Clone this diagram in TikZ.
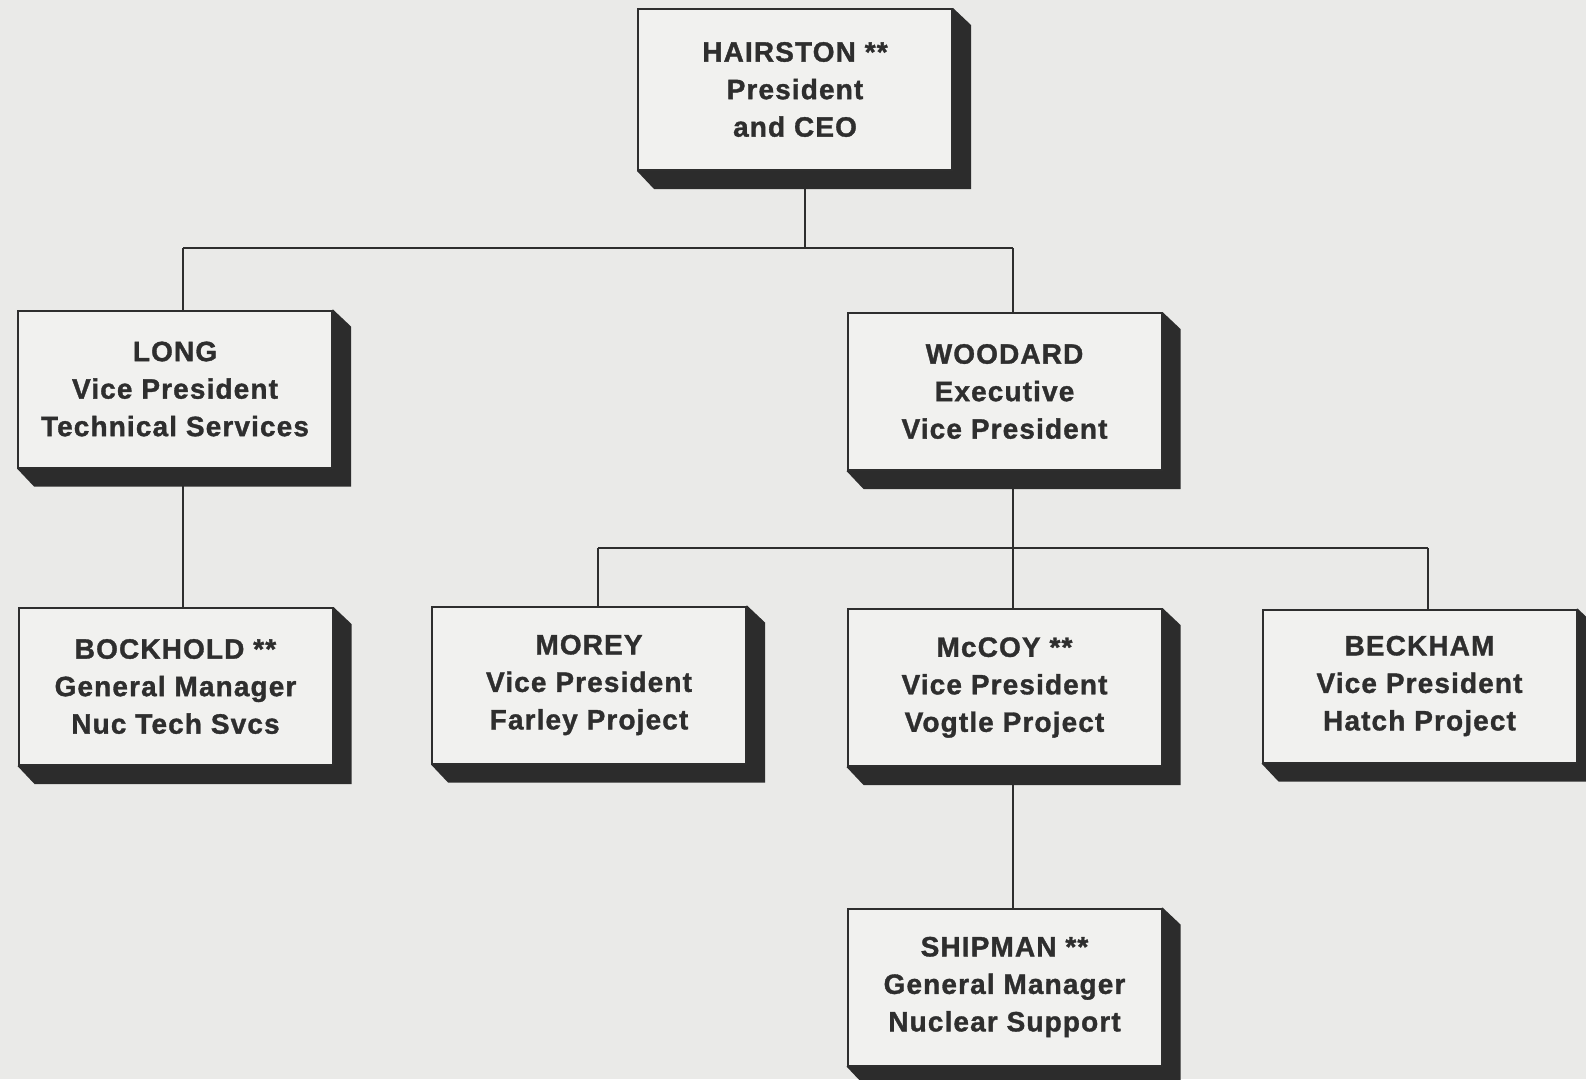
\documentclass[tikz,border=0pt]{standalone}
\usepackage{fontspec}
\newfontfamily\orgfont{Liberation Sans}[LetterSpace=4, BoldFeatures={FakeBold=1.2}]
\pgfdeclarelayer{bg}
\pgfdeclarelayer{lines}
\pgfsetlayers{bg,lines,main}
\definecolor{paper}{HTML}{EAEAE8}
\definecolor{boxfill}{HTML}{F1F1EF}
\definecolor{ink}{HTML}{2E2E2E}
\definecolor{shadowc}{HTML}{2C2C2C}
\tikzset{
  orgbox/.style={draw=ink, line width=2pt, fill=boxfill, minimum width=314pt,
    minimum height=157pt, align=center, text=ink, inner sep=0pt,
    font=\orgfont\bfseries\fontsize{28}{37.5}\selectfont},
  link/.style={draw=ink, line width=2pt},
  dropshadow/.style={fill=shadowc, draw=none},
}
\begin{document}
\begin{tikzpicture}[x=1pt,y=-1pt]
\useasboundingbox (0,0) rectangle (1586,1079);
\begin{pgfonlayer}{bg}
  \fill[paper] (0,0) rectangle (1586,1079);
\end{pgfonlayer}

\node[orgbox, minimum height=161pt] (hair) at (795,89.5) {HAIRSTON **\\President\\and CEO};
\node[orgbox] (long) at (175,389) {LONG\\Vice President\\Technical Services};
\node[orgbox] (wood) at (1004.5,391.5) {WOODARD\\Executive\\Vice President};
\node[orgbox] (bock) at (175.5,686.5) {BOCKHOLD **\\General Manager\\Nuc Tech Svcs};
\node[orgbox] (morey) at (589,685) {MOREY\\Vice President\\Farley Project};
\node[orgbox] (mccoy) at (1004.5,687.5) {McCOY **\\Vice President\\Vogtle Project};
\node[orgbox, minimum height=153pt] (beck) at (1419.5,686) {BECKHAM\\Vice President\\Hatch Project};
\node[orgbox] (ship) at (1004.5,987) {SHIPMAN **\\General Manager\\Nuclear Support};

\coordinate (j1) at (805,248);
\coordinate (j1l) at (183,248);
\coordinate (j1r) at (1013,248);
\coordinate (j2) at (1013,548);
\coordinate (j2l) at (598,548);
\coordinate (j2r) at (1428,548);
\coordinate (vl) at (183,0);

\begin{pgfonlayer}{lines}
  \draw[link] (hair.south -| j1) -- (j1);
  \draw[link] (j1l) -- (j1r);
  \draw[link] (j1l) -- (long.north -| j1l);
  \draw[link] (j1r) -- (wood.north -| j1r);
  \draw[link] (long.south -| vl) -- (bock.north -| vl);
  \draw[link] (wood.south -| j2) -- (mccoy.north -| j2);
  \draw[link] (j2l) -- (j2r);
  \draw[link] (j2l) -- (morey.north -| j2l);
  \draw[link] (j2r) -- (beck.north -| j2r);
  \draw[link] (mccoy.south -| j2) -- (ship.north -| j2);
  \foreach \n in {hair,long,wood,bock,morey,mccoy,beck,ship}{
    \path[dropshadow] (\n.south west) -- ([shift={(17,18)}]\n.south west)
      -- ([shift={(18,18)}]\n.south east) -- ([shift={(18,17)}]\n.north east)
      -- (\n.north east) -- cycle;
  }
\end{pgfonlayer}
\end{tikzpicture}
\end{document}
